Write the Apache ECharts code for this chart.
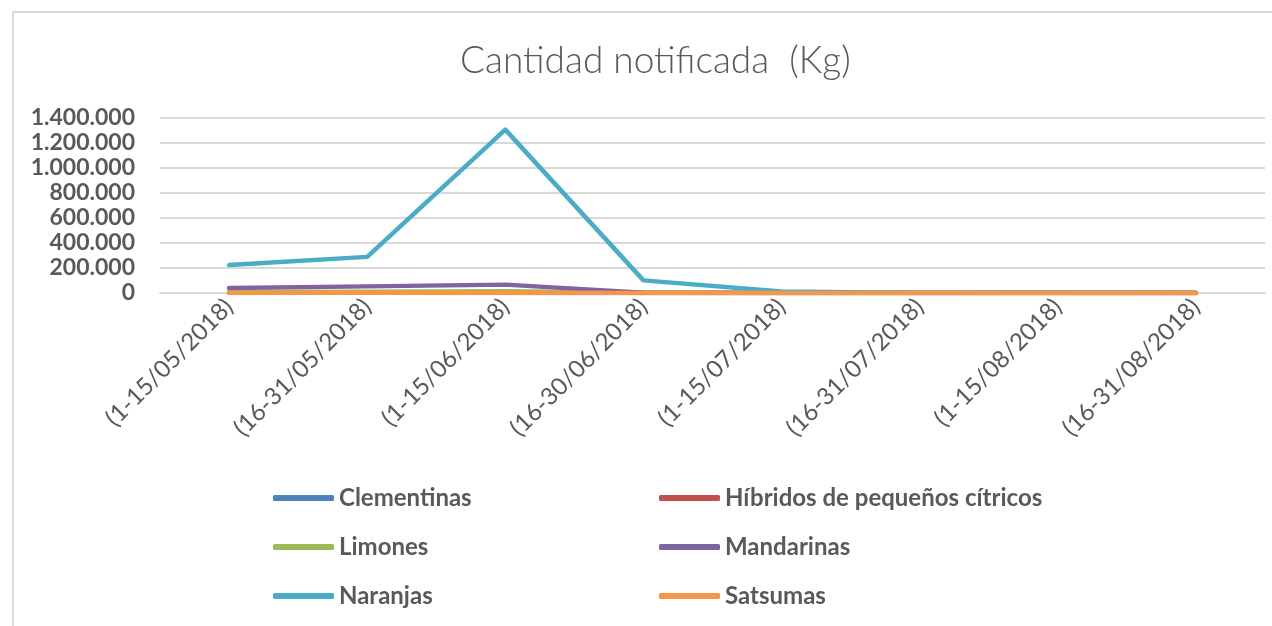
<!DOCTYPE html>
<html>
<head>
<meta charset="utf-8">
<script src="https://cdn.jsdelivr.net/npm/echarts@6/dist/echarts.min.js"></script>
<style>
  html, body { margin: 0; padding: 0; background: #fff; }
  #chart { width: 1272px; height: 626px; }
</style>
</head>
<body>
<div id="chart"></div>
<script>
// datos
var periodos = ['(1-15/05/2018)', '(16-31/05/2018)', '(1-15/06/2018)', '(16-30/06/2018)',
    '(1-15/07/2018)', '(16-31/07/2018)', '(1-15/08/2018)', '(16-31/08/2018)'];
var clementinas = [5000, 3000, 2000, 0, 0, 0, 0, 0];
var hibridos = [3000, 2000, 1000, 0, 0, 0, 0, 0];
var limones = [8000, 10000, 15000, 2000, 0, 0, 0, 0];
var mandarinas = [40000, 53000, 67000, 2000, 0, 0, 0, 0];
var naranjas = [224000, 289000, 1307000, 101000, 12000, 1000, 3000, 0];
var satsumas = [1000, 2000, 3000, 1000, 0, 0, 0, 0];

var nombres = ['Clementinas', 'Híbridos de pequeños cítricos', 'Limones', 'Mandarinas', 'Naranjas', 'Satsumas'];
var colores = ['#4F81BD', '#C0504D', '#9BBB59', '#8064A2', '#4BACC6', '#F79646'];
var valores = [clementinas, hibridos, limones, mandarinas, naranjas, satsumas];

var fuente = 'Lato, "Liberation Sans", sans-serif';
var gris = '#595959';

var myChart = echarts.init(document.getElementById('chart'));

var series = [];
nombres.forEach(function (n, i) {
    series.push({
        name: n,
        type: 'line',
        data: valores[i],
        symbol: 'none',
        color: colores[i],
        lineStyle: { width: 4.5, cap: 'round', join: 'round' }
    });
});

function leyenda(items, left) {
    return {
        orient: 'vertical',
        left: left,
        top: 486,
        padding: 0,
        itemWidth: 61,
        itemHeight: 6,
        itemGap: 25,
        icon: 'roundRect',
        data: items,
        textStyle: { color: gris, fontFamily: fuente, fontWeight: 'bold', fontSize: 24, lineHeight: 24 }
    };
}

var option = {
    animation: false,
    title: {
        text: 'Cantidad notificada  (Kg)',
        left: 455,
        top: 38,
        textStyle: { color: gris, fontFamily: fuente, fontWeight: 300, fontSize: 37 }
    },
    graphic: [{
        type: 'rect',
        shape: { x: 13, y: 12, width: 1300, height: 700 },
        style: { fill: 'none', stroke: '#d9d9d9', lineWidth: 2 }
    }],
    legend: [
        leyenda([nombres[0], nombres[2], nombres[4]], 273),
        leyenda([nombres[1], nombres[3], nombres[5]], 659)
    ],
    grid: { left: 160, right: 7, top: 118, bottom: 333 },
    xAxis: {
        type: 'category',
        data: periodos,
        axisLine: { lineStyle: { color: '#d9d9d9', width: 2 } },
        axisTick: { show: false },
        axisLabel: { rotate: 45, margin: 10, color: gris, fontFamily: fuente, fontSize: 24, interval: 0 }
    },
    yAxis: {
        type: 'value',
        min: 0,
        max: 1400000,
        interval: 200000,
        axisLine: { show: false },
        axisTick: { show: false },
        splitLine: { lineStyle: { color: '#d9d9d9', width: 2 } },
        axisLabel: {
            margin: 25,
            color: gris,
            fontFamily: fuente,
            fontWeight: 'bold',
            fontSize: 23,
            formatter: function (v) {
                return String(v).replace(/\B(?=(\d{3})+(?!\d))/g, '.');
            }
        }
    },
    series: series
};
myChart.setOption(option);
</script>
</body>
</html>
